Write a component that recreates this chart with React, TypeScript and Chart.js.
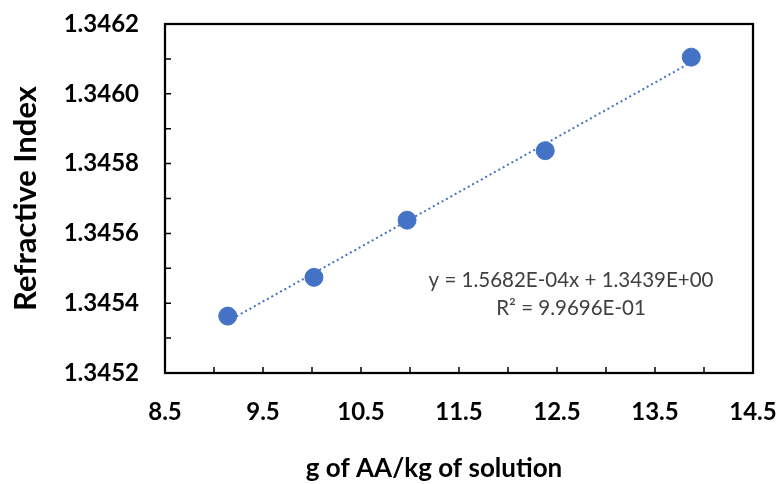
import React, { useEffect, useRef } from 'react';
import { Chart, registerables } from 'chart.js';

Chart.register(...registerables);

// ---- data ----
const xValues = [9.14, 10.02, 10.97, 12.38, 13.87];
const yValues = [1.345363, 1.345474, 1.345638, 1.345837, 1.346105];
const xTickLabels = [8.5, 9.5, 10.5, 11.5, 12.5, 13.5, 14.5];
const xMinorTicks = [9.0, 9.5, 10.0, 10.5, 11.0, 11.5, 12.0, 12.5, 13.0, 13.5, 14.0];
const yTickLabels = [1.3452, 1.3454, 1.3456, 1.3458, 1.346, 1.3462];
const yMinorTicks = [1.3453, 1.3454, 1.3455, 1.3456, 1.3457, 1.3458, 1.3459, 1.346, 1.3461];
const equationLines = ['y = 1.5682E-04x + 1.3439E+00', 'R\u00B2 = 9.9696E-01'];
const xTitle = 'g of AA/kg of solution';
const yTitle = 'Refractive Index';

const BLUE = '#4472C4';
const FONT = 'Lato, "Open Sans", sans-serif';

function regression(xs: number[], ys: number[]) {
  const n = xs.length;
  const mx = xs.reduce((a, b) => a + b, 0) / n;
  const my = ys.reduce((a, b) => a + b, 0) / n;
  let sxy = 0, sxx = 0;
  for (let i = 0; i < n; i++) {
    sxy += (xs[i] - mx) * (ys[i] - my);
    sxx += (xs[i] - mx) * (xs[i] - mx);
  }
  const slope = sxy / sxx;
  return { slope, intercept: my - slope * mx };
}

const framePlugin = {
  id: 'frame',
  beforeDatasetsDraw(chart: any) {
    const { ctx, chartArea: a, scales } = chart;
    ctx.save();
    ctx.strokeStyle = '#000';
    ctx.lineWidth = 2.25;
    ctx.strokeRect(a.left, a.top, a.right - a.left, a.bottom - a.top);
    ctx.lineWidth = 1.5;
    ctx.beginPath();
    xMinorTicks.forEach((v) => {
      const px = scales.x.getPixelForValue(v);
      ctx.moveTo(px, a.bottom);
      ctx.lineTo(px, a.bottom - 6);
    });
    yMinorTicks.forEach((v) => {
      const py = scales.y.getPixelForValue(v);
      ctx.moveTo(a.left, py);
      ctx.lineTo(a.left + 6, py);
    });
    ctx.stroke();
    ctx.restore();
  },
  afterDraw(chart: any) {
    const { ctx, chartArea: a } = chart;
    ctx.save();
    // equation
    ctx.fillStyle = '#404040';
    ctx.font = `20.5px ${FONT}`;
    ctx.textAlign = 'center';
    ctx.textBaseline = 'middle';
    ctx.fillText(equationLines[0], 571, 280);
    ctx.fillText(equationLines[1], 571, 308);
    // axis titles
    ctx.fillStyle = '#000';
    ctx.font = `bold 26px ${FONT}`;
    ctx.fillText(xTitle, 434, 469);
    ctx.font = `bold 31px ${FONT}`;
    ctx.translate(26, (a.top + a.bottom) / 2);
    ctx.rotate(-Math.PI / 2);
    ctx.fillText(yTitle, 0, 0);
    ctx.restore();
  },
};

export default function App() {
  const ref = useRef<HTMLCanvasElement | null>(null);

  useEffect(() => {
    if (!ref.current) return;
    const { slope, intercept } = regression(xValues, yValues);
    const xmin = Math.min(...xValues);
    const xmax = Math.max(...xValues);
    const trend = [
      { x: xmin, y: slope * xmin + intercept },
      { x: xmax, y: slope * xmax + intercept },
    ];
    const chart = new Chart(ref.current, {
      type: 'scatter',
      data: {
        datasets: [
          {
            label: 'trend',
            data: trend,
            showLine: true,
            borderColor: BLUE,
            borderWidth: 2,
            borderDash: [2, 3],
            pointRadius: 0,
            order: 2,
          } as any,
          {
            label: 'data',
            data: xValues.map((x, i) => ({ x, y: yValues[i] })),
            backgroundColor: BLUE,
            borderColor: BLUE,
            borderWidth: 1,
            pointRadius: 9,
            order: 1,
          },
        ],
      },
      options: {
        responsive: false,
        animation: false,
        events: [],
        layout: { padding: { left: 0, top: 24, right: 28, bottom: 0 } },
        plugins: { legend: { display: false }, tooltip: { enabled: false } },
        scales: {
          x: {
            type: 'linear',
            min: 8.5,
            max: 14.5,
            grid: { display: false, drawTicks: false },
            border: { display: false },
            afterBuildTicks: (s: any) => {
              s.ticks = xTickLabels.map((v) => ({ value: v }));
            },
            afterFit: (s: any) => {
              s.height = 111;
              s.paddingLeft = 0;
              s.paddingRight = 0;
            },
            ticks: {
              padding: 25,
              maxRotation: 0,
              autoSkip: false,
              color: '#000',
              font: { family: FONT, size: 24, weight: 'bold' },
              callback: (v: any) => Number(v).toFixed(1),
            },
          },
          y: {
            type: 'linear',
            min: 1.3452,
            max: 1.3462,
            grid: { display: false, drawTicks: false },
            border: { display: false },
            afterBuildTicks: (s: any) => {
              s.ticks = yTickLabels.map((v) => ({ value: v }));
            },
            afterFit: (s: any) => {
              s.width = 165;
              s.paddingTop = 0;
              s.paddingBottom = 0;
            },
            ticks: {
              padding: 26,
              autoSkip: false,
              color: '#000',
              font: { family: FONT, size: 24, weight: 'bold' },
              callback: (v: any) => Number(v).toFixed(4),
            },
          },
        },
      },
      plugins: [framePlugin],
    });
    return () => chart.destroy();
  }, []);

  return (
    <div style={{ position: 'fixed', left: 0, top: 0, width: 781, height: 484, background: '#fff' }}>
      <canvas ref={ref} width={781} height={484} style={{ display: 'block' }} />
    </div>
  );
}
